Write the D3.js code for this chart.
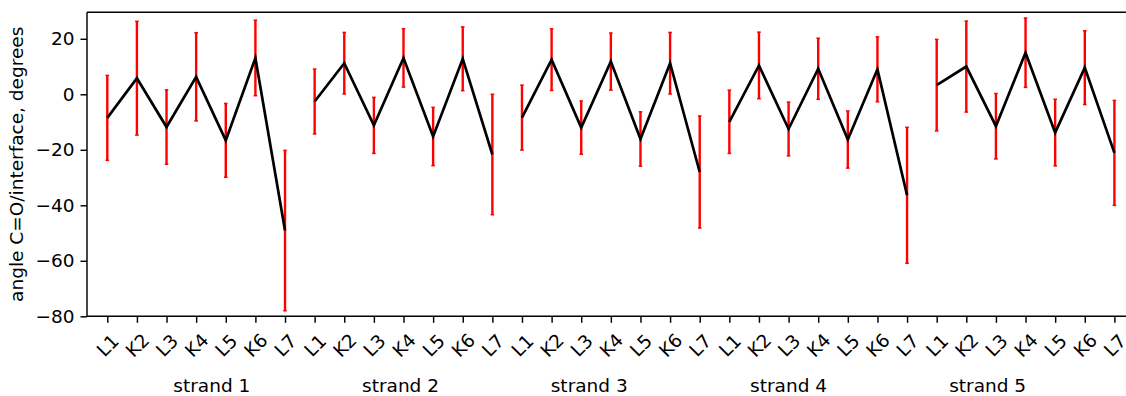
<!DOCTYPE html>
<html>
<head>
<meta charset="utf-8">
<script src="https://cdn.jsdelivr.net/npm/d3@7"></script>
<style>
  html, body { margin: 0; padding: 0; background: #fff; }
  svg { display: block; font-family: "DejaVu Sans", sans-serif; }
</style>
</head>
<body>
<svg id="chart" width="1126" height="396"></svg>
<script>
// Residues along each strand and the strand names
const residues = ["L1", "K2", "L3", "K4", "L5", "K6", "L7"];
const strands = ["strand 1", "strand 2", "strand 3", "strand 4", "strand 5"];

// Mean C=O / interface angle (degrees) per residue, one array per strand
const strand1Mean = [-8.5, 5.8, -11.8, 6.3, -16.6, 13.1, -49.1];
const strand2Mean = [-2.6, 11.2, -11.2, 13.1, -15.2, 12.8, -21.7];
const strand3Mean = [-8.4, 12.5, -12.0, 11.8, -16.1, 11.2, -28.0];
const strand4Mean = [-9.9, 10.4, -12.5, 9.2, -16.3, 9.0, -36.4];
const strand5Mean = [3.3, 10.0, -11.5, 15.0, -13.8, 9.6, -21.1];

// Standard deviation of the angle per residue
const strand1Err = [15.3, 20.5, 13.4, 15.9, 13.3, 13.6, 28.9];
const strand2Err = [11.7, 11.1, 10.1, 10.5, 10.5, 11.5, 21.7];
const strand3Err = [11.7, 11.1, 9.6, 10.3, 9.8, 11.1, 20.2];
const strand4Err = [11.4, 12.0, 9.7, 11.0, 10.3, 11.7, 24.5];
const strand5Err = [16.5, 16.4, 11.8, 12.5, 12.0, 13.3, 18.9];

// Y axis ticks
const yTicks = [20, 0, -20, -40, -60, -80];

const means = [strand1Mean, strand2Mean, strand3Mean, strand4Mean, strand5Mean];
const errs = [strand1Err, strand2Err, strand3Err, strand4Err, strand5Err];

// Flattened records: one per residue position
const points = [];
strands.forEach((s, si) => {
  residues.forEach((r, ri) => {
    points.push({ strand: si, label: r, idx: si * residues.length + ri,
                  mean: means[si][ri], err: errs[si][ri] });
  });
});

const FS = 18.5;
const svg = d3.select("#chart");
const plot = { left: 87, top: 12.3, bottom: 316.3 };
const n = points.length;

const x = d3.scaleLinear().domain([-0.685, n - 1 + 0.685]).range([plot.left, 1134.7]);
const y = d3.scaleLinear().domain([-80, 29.55]).range([plot.bottom, plot.top]);

// Error bars
const eb = svg.append("g");
points.forEach(p => {
  const cx = x(p.idx), y1 = y(p.mean + p.err), y2 = y(p.mean - p.err);
  eb.append("line").attr("x1", cx).attr("x2", cx).attr("y1", y1).attr("y2", y2)
    .attr("stroke", "#ff0000").attr("stroke-width", 2.4);
  [y1, y2].forEach(yy => eb.append("line")
    .attr("x1", cx - 1.8).attr("x2", cx + 1.8).attr("y1", yy).attr("y2", yy)
    .attr("stroke", "#ff0000").attr("stroke-width", 1.5));
});

// Mean lines, one per strand
const line = d3.line().x(p => x(p.idx)).y(p => y(p.mean));
strands.forEach((s, si) => {
  svg.append("path")
    .datum(points.filter(p => p.strand === si))
    .attr("d", line)
    .attr("fill", "none")
    .attr("stroke", "#000")
    .attr("stroke-width", 2.7)
    .attr("stroke-linejoin", "miter");
});

// Axes frame (left, top, bottom)
const axisColor = "#000";
const spineW = 1.45;
svg.append("line").attr("x1", plot.left).attr("x2", 1126).attr("y1", plot.top).attr("y2", plot.top)
  .attr("stroke", axisColor).attr("stroke-width", spineW);
svg.append("line").attr("x1", plot.left).attr("x2", 1126).attr("y1", plot.bottom).attr("y2", plot.bottom)
  .attr("stroke", axisColor).attr("stroke-width", spineW);
svg.append("line").attr("x1", plot.left).attr("x2", plot.left).attr("y1", plot.top).attr("y2", plot.bottom)
  .attr("stroke", axisColor).attr("stroke-width", spineW);

// Y axis
const yAxis = d3.axisLeft(y).tickValues(yTicks).tickSize(6.5).tickPadding(6)
  .tickFormat(d => d < 0 ? "\u2212" + Math.abs(d) : String(d));
const gy = svg.append("g").attr("transform", `translate(${plot.left},0)`).call(yAxis);
gy.select(".domain").remove();
gy.selectAll(".tick line").attr("stroke", axisColor).attr("stroke-width", spineW);
gy.selectAll(".tick text").attr("font-size", FS).attr("fill", "#000")
  .attr("font-family", "DejaVu Sans");

// X axis ticks with rotated residue labels
const xAxis = d3.axisBottom(x).tickValues(points.map(p => p.idx)).tickSize(6.5)
  .tickFormat(i => points[i].label);
const gx = svg.append("g").attr("transform", `translate(0,${plot.bottom})`).call(xAxis);
gx.select(".domain").remove();
gx.selectAll(".tick line").attr("stroke", axisColor).attr("stroke-width", spineW);
gx.selectAll(".tick text")
  .attr("font-size", FS).attr("fill", "#000").attr("font-family", "DejaVu Sans")
  .attr("text-anchor", "middle").attr("dy", null).attr("y", null)
  .attr("dominant-baseline", "central")
  .attr("transform", "translate(0,29) rotate(-45)");

// Strand group labels (position in index units)
const strandLabelPos = [3.53, 9.9, 16.27, 23.0, 29.72];
svg.append("g").selectAll("text").data(strands).join("text")
  .attr("x", (d, i) => x(strandLabelPos[i]))
  .attr("y", 391.5)
  .attr("text-anchor", "middle")
  .attr("font-size", FS)
  .attr("fill", "#000")
  .text(d => d);

// Y axis title
svg.append("text")
  .attr("transform", `translate(23,${(plot.top + plot.bottom) / 2}) rotate(-90)`)
  .attr("text-anchor", "middle")
  .attr("font-size", FS)
  .attr("fill", "#000")
  .text("angle C=O/interface, degrees");
</script>
</body>
</html>
